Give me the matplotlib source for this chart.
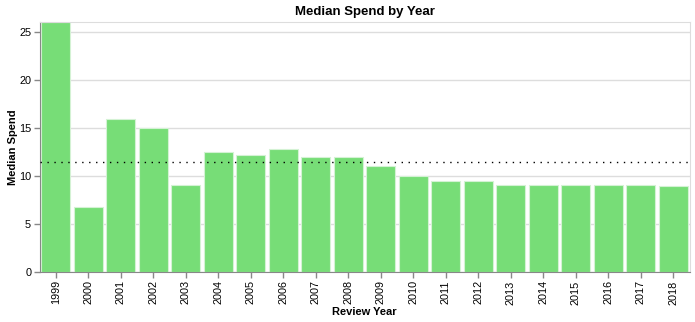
import numpy as np
import matplotlib.pyplot as plt

plt.rcParams['font.family'] = ['Liberation Sans', 'DejaVu Sans']

# data
years = ['1999', '2000', '2001', '2002', '2003', '2004', '2005', '2006', '2007', '2008',
         '2009', '2010', '2011', '2012', '2013', '2014', '2015', '2016', '2017', '2018']
median_spend = [26.0, 6.75, 15.95, 15.0, 9.0, 12.5, 12.15, 12.75, 12.0, 12.0,
                11.0, 10.0, 9.45, 9.45, 9.0, 9.0, 9.0, 9.0, 9.0, 8.95]

mean_spend = np.mean(median_spend)

fig = plt.figure(figsize=(6.95, 3.22), dpi=100)
ax = fig.add_axes([39.5 / 695, 50 / 322, 650 / 695, 250 / 322])

x = np.arange(len(years))
ax.bar(x, median_spend, width=0.9, color='#77dd77', edgecolor='#d4f2d4', linewidth=0.8, zorder=2)
ax.axhline(mean_spend, color='black', linestyle=(0, (1, 4)), linewidth=1, zorder=3)

ax.set_xlim(-0.5, len(years) - 0.5)
ax.set_ylim(0, 26)
ax.set_yticks([0, 5, 10, 15, 20, 25])
ax.set_xticks(x)
ax.set_xticklabels(years, rotation=90)

ax.yaxis.grid(True, color='#dddddd', linewidth=1, zorder=0)
ax.set_axisbelow(True)

for s in ['top', 'right']:
    ax.spines[s].set_color('#dddddd')
for s in ['left', 'bottom']:
    ax.spines[s].set_color('#888888')
ax.tick_params(colors='#888888', labelcolor='black', labelsize=7.8, length=4, width=1, pad=2)

ax.set_xlabel('Review Year', fontsize=8, fontweight='bold', labelpad=2)
ax.set_ylabel('Median Spend', fontsize=8, fontweight='bold')
ax.yaxis.set_label_coords(-22 / 650, 0.5)
ax.set_title('Median Spend by Year', fontsize=9.5, fontweight='bold', pad=5)

fig.savefig('out.png', dpi=100)
